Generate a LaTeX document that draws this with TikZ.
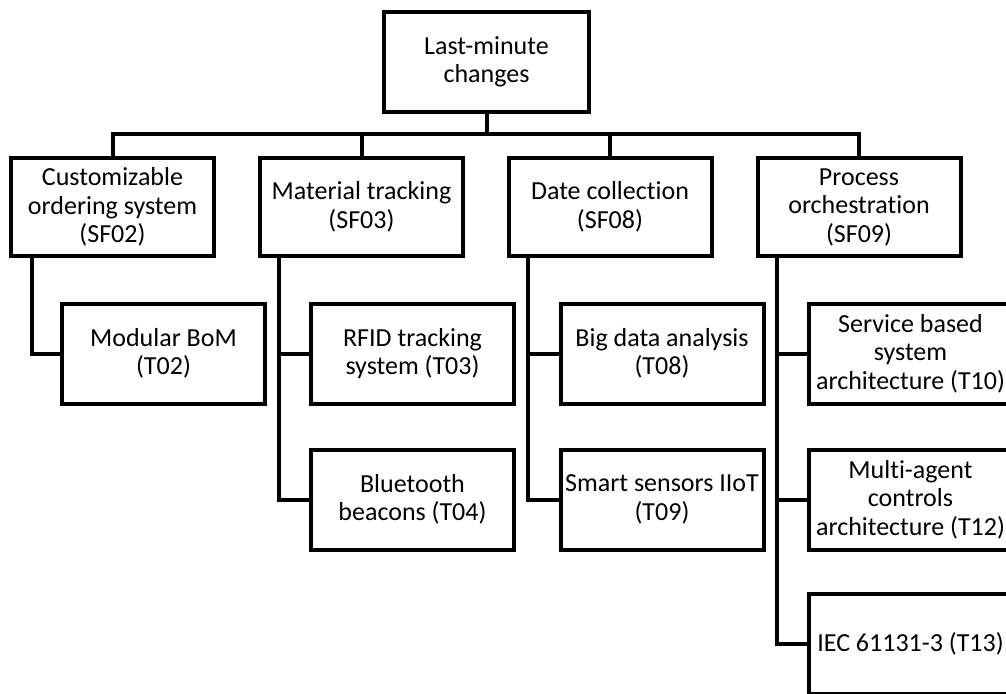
\documentclass[tikz,border=0pt]{standalone}
\usepackage{fontspec}
\setmainfont{Carlito}[Ligatures={NoCommon,NoContextual}]
\usetikzlibrary{calc}
\begin{document}
\begin{tikzpicture}[x=1pt,y=-1pt,
  treebox/.style={draw=black, fill=white, line width=4pt, inner sep=0pt,
    align=center, minimum height=100pt,
    font=\fontsize{26}{28.5}\selectfont},
  topbox/.style={treebox, minimum width=205pt},
  featbox/.style={treebox, minimum width=203pt, minimum height=98pt},
  techbox/.style={treebox, minimum width=203pt},
  link/.style={draw=black, line width=4pt}
]
\clip (0,0) rectangle (1006,693);
\fill[white] (0,0) rectangle (1006,693);

% root
\node[topbox] (root) at (486.5,62) {Last-minute\\changes};

% feature level
\node[featbox] (sf02) at (112.5,207) {Customizable\\ordering system\\(SF02)};
\node[featbox] (sf03) at (361.5,207) {Material tracking\\(SF03)};
\node[featbox] (sf08) at (610,207) {Date collection\\(SF08)};
\node[featbox] (sf09) at (859,207) {Process\\orchestration\\(SF09)};

% technology level
\node[techbox] (t02) at (163.5,353.5) {Modular BoM\\(T02)};
\node[techbox] (t03) at (412.5,353.5) {RFID tracking\\system (T03)};
\node[techbox] (t04) at (412.5,499.5) {Bluetooth\\beacons (T04)};
\node[techbox] (t08) at (662,353.5) {Big data analysis\\(T08)};
\node[techbox] (t09) at (662,499.5) {Smart sensors IIoT\\(T09)};
\node[techbox] (t10) at (910.5,353.5) {Service based\\system\\architecture (T10)};
\node[techbox] (t12) at (910.5,499.5) {Multi-agent\\controls\\architecture (T12)};
\node[techbox] (t13) at (910.5,644) {IEC 61131-3 (T13)};

% bus between root and features
\coordinate (bus) at (0,134);
\draw[link] (root.south) -- (root.south |- bus);
\draw[link] (sf02.north) -- (sf02.north |- bus) -- (sf09.north |- bus) -- (sf09.north);
\draw[link] (sf03.north) -- (sf03.north |- bus);
\draw[link] (sf08.north) -- (sf08.north |- bus);

% spines from features to technologies
\coordinate (s02) at ($(sf02.south west)+(23,0)$);
\coordinate (s03) at ($(sf03.south west)+(21,0)$);
\coordinate (s08) at ($(sf08.south west)+(21,0)$);
\coordinate (s09) at ($(sf09.south west)+(21,0)$);

\draw[link] (s02) |- (t02.west);
\draw[link] (s03) |- (t04.west);
\draw[link] (s03 |- t03.west) -- (t03.west);
\draw[link] (s08) |- (t09.west);
\draw[link] (s08 |- t08.west) -- (t08.west);
\draw[link] (s09) |- (t13.west);
\draw[link] (s09 |- t10.west) -- (t10.west);
\draw[link] (s09 |- t12.west) -- (t12.west);
\end{tikzpicture}
\end{document}
